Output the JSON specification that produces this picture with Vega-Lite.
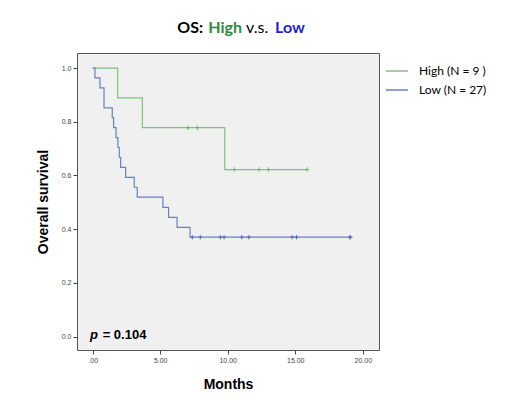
{
  "$schema": "https://vega.github.io/schema/vega-lite/v6.json",
  "width": 302,
  "height": 297,
  "autosize": {"type": "none"},
  "padding": {"left": 77, "top": 53, "right": 133, "bottom": 50},
  "background": "white",
  "config": {
    "view": {"fill": "#f0f0f0", "stroke": "#555555", "strokeWidth": 1},
    "axis": {"grid": false, "domain": false, "tickColor": "#444444", "tickSize": 4, "labelFont": "Liberation Sans", "labelFontSize": 7, "labelColor": "#444444", "titleFont": "Liberation Sans", "titleFontSize": 14, "titleFontWeight": "bold", "titleColor": "#000000"}
  },
  "data": {
    "values": [
      {"group": "High", "time": 0, "surv": 1.0, "censored": false},
      {"group": "High", "time": 1.85, "surv": 0.889, "censored": false},
      {"group": "High", "time": 3.68, "surv": 0.778, "censored": false},
      {"group": "High", "time": 7.08, "surv": 0.778, "censored": true},
      {"group": "High", "time": 7.75, "surv": 0.778, "censored": true},
      {"group": "High", "time": 9.78, "surv": 0.622, "censored": false},
      {"group": "High", "time": 10.49, "surv": 0.622, "censored": true},
      {"group": "High", "time": 12.32, "surv": 0.622, "censored": true},
      {"group": "High", "time": 13.01, "surv": 0.622, "censored": true},
      {"group": "High", "time": 15.87, "surv": 0.622, "censored": true},
      {"group": "Low", "time": 0, "surv": 1.0, "censored": false},
      {"group": "Low", "time": 0.17, "surv": 0.963, "censored": false},
      {"group": "Low", "time": 0.54, "surv": 0.926, "censored": false},
      {"group": "Low", "time": 0.84, "surv": 0.852, "censored": false},
      {"group": "Low", "time": 1.45, "surv": 0.815, "censored": false},
      {"group": "Low", "time": 1.55, "surv": 0.778, "censored": false},
      {"group": "Low", "time": 1.73, "surv": 0.741, "censored": false},
      {"group": "Low", "time": 1.87, "surv": 0.704, "censored": false},
      {"group": "Low", "time": 1.97, "surv": 0.667, "censored": false},
      {"group": "Low", "time": 2.07, "surv": 0.630, "censored": false},
      {"group": "Low", "time": 2.44, "surv": 0.593, "censored": false},
      {"group": "Low", "time": 3.08, "surv": 0.556, "censored": false},
      {"group": "Low", "time": 3.30, "surv": 0.519, "censored": false},
      {"group": "Low", "time": 5.20, "surv": 0.481, "censored": false},
      {"group": "Low", "time": 5.62, "surv": 0.444, "censored": false},
      {"group": "Low", "time": 6.25, "surv": 0.407, "censored": false},
      {"group": "Low", "time": 7.21, "surv": 0.370, "censored": false},
      {"group": "Low", "time": 7.38, "surv": 0.370, "censored": true},
      {"group": "Low", "time": 7.97, "surv": 0.370, "censored": true},
      {"group": "Low", "time": 9.46, "surv": 0.370, "censored": true},
      {"group": "Low", "time": 9.73, "surv": 0.370, "censored": true},
      {"group": "Low", "time": 11.04, "surv": 0.370, "censored": true},
      {"group": "Low", "time": 11.56, "surv": 0.370, "censored": true},
      {"group": "Low", "time": 14.76, "surv": 0.370, "censored": true},
      {"group": "Low", "time": 15.09, "surv": 0.370, "censored": true},
      {"group": "Low", "time": 19.06, "surv": 0.370, "censored": true},
      {"group": "Low", "time": 19.06, "surv": 0.370, "censored": true}
    ]
  },
  "encoding": {
    "x": {"field": "time", "type": "quantitative", "scale": {"domain": [-1.16, 21.2], "nice": false, "zero": false},
      "axis": {"values": [0, 5, 10, 15, 20], "labelExpr": "datum.value == 0 ? '.00' : format(datum.value, '.2f')", "title": "Months", "titlePadding": 14, "labelPadding": 2}},
    "y": {"field": "surv", "type": "quantitative", "scale": {"domain": [-0.05, 1.056], "nice": false, "zero": false},
      "axis": {"values": [0, 0.2, 0.4, 0.6, 0.8, 1.0], "format": ".1f", "title": "Overall survival", "titlePadding": 11, "labelPadding": 2}}
  },
  "layer": [
    {
      "mark": {"type": "line", "interpolate": "step-after", "strokeWidth": 1.2},
      "encoding": {
        "color": {"field": "group", "type": "nominal", "scale": {"domain": ["High", "Low"], "range": ["#7cc47a", "#6b7fc4"]},
          "legend": {"title": null, "orient": "none", "legendX": 308, "legendY": 6, "symbolType": "stroke", "symbolSize": 484, "symbolStrokeWidth": 1.5, "labelFont": "Lato", "labelFontSize": 12, "labelColor": "#000000", "labelOffset": 10, "rowPadding": 1, "padding": 0,
            "labelExpr": "datum.label == 'High' ? 'High (N = 9 )' : 'Low (N = 27)'"}}
      }
    },
    {
      "transform": [{"filter": "datum.censored"}],
      "mark": {"type": "point", "shape": "M-1,0L1,0M0,-1L0,1", "filled": false, "strokeWidth": 1, "size": 20, "opacity": 1},
      "encoding": {
        "stroke": {"field": "group", "type": "nominal", "scale": {"domain": ["High", "Low"], "range": ["#6ab868", "#5a6fb8"]}, "legend": null}
      }
    },
    {
      "transform": [{"filter": "datum.group == 'High' && datum.time == 0"}],
      "mark": {"type": "text", "font": "Liberation Sans", "fontSize": 13, "fontWeight": "bold", "fontStyle": "italic", "align": "left", "baseline": "alphabetic", "color": "#000000"},
      "encoding": {"x": {"datum": -0.2}, "y": {"datum": -0.0093}, "text": {"value": "p"}}
    },
    {
      "transform": [{"filter": "datum.group == 'High' && datum.time == 0"}],
      "mark": {"type": "text", "font": "Liberation Sans", "fontSize": 13, "fontWeight": "bold", "align": "left", "baseline": "alphabetic", "color": "#000000"},
      "encoding": {"x": {"datum": 0.74}, "y": {"datum": -0.0093}, "text": {"value": "= 0.104"}}
    },
    {
      "transform": [{"filter": "datum.group == 'High' && datum.time == 0"}],
      "mark": {"type": "text", "font": "Lato", "fontSize": 16, "fontWeight": "bold", "align": "left", "baseline": "alphabetic", "color": "#000000"},
      "encoding": {"x": {"datum": 6.27}, "y": {"datum": 1.129}, "text": {"value": "OS:"}}
    },
    {
      "transform": [{"filter": "datum.group == 'High' && datum.time == 0"}],
      "mark": {"type": "text", "font": "Lato", "fontSize": 16, "fontWeight": "bold", "align": "left", "baseline": "alphabetic", "color": "#2e8b45"},
      "encoding": {"x": {"datum": 8.56}, "y": {"datum": 1.129}, "text": {"value": "High"}}
    },
    {
      "transform": [{"filter": "datum.group == 'High' && datum.time == 0"}],
      "mark": {"type": "text", "font": "Lato", "fontSize": 16, "fontWeight": "normal", "align": "left", "baseline": "alphabetic", "color": "#000000"},
      "encoding": {"x": {"datum": 11.36}, "y": {"datum": 1.129}, "text": {"value": "v.s."}}
    },
    {
      "transform": [{"filter": "datum.group == 'High' && datum.time == 0"}],
      "mark": {"type": "text", "font": "Lato", "fontSize": 16, "fontWeight": "bold", "align": "left", "baseline": "alphabetic", "color": "#1f1fd6"},
      "encoding": {"x": {"datum": 13.5}, "y": {"datum": 1.129}, "text": {"value": "Low"}}
    }
  ]
}
